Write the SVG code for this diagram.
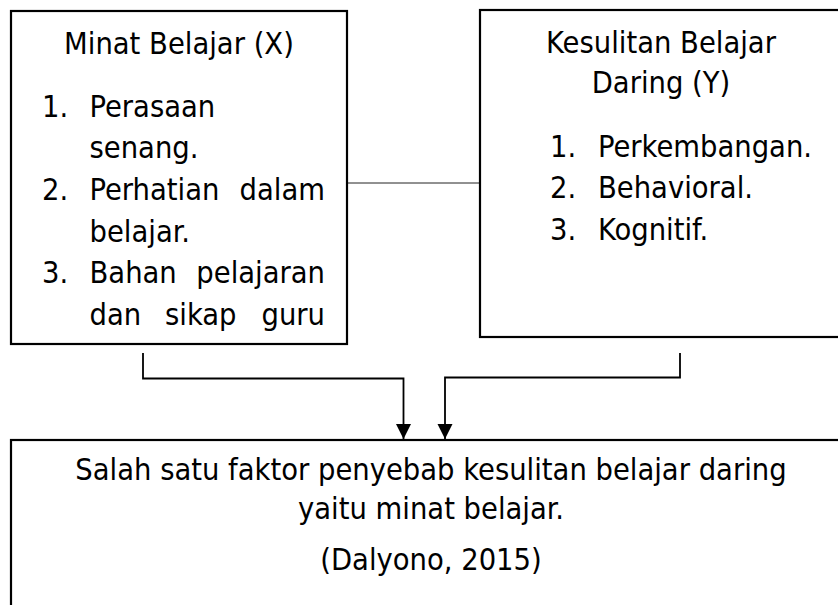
<svg xmlns="http://www.w3.org/2000/svg" width="838" height="605" viewBox="0 0 838 605">
<style>
  .box { fill: #fff; stroke: #000; stroke-width: 2.2; }
  text { font-family: "DejaVu Sans Condensed", "DejaVu Sans", sans-serif; font-stretch: condensed; font-size: 30.5px; fill: #000; }
  .mid { text-anchor: middle; }
  .end { text-anchor: end; }
  .conn { fill: none; stroke: #000; stroke-width: 1.8; }
  .thin { fill: none; stroke: #222; stroke-width: 1; }
</style>
<defs>
  <marker id="arrow" markerUnits="userSpaceOnUse" markerWidth="16" markerHeight="16" refX="15" refY="7.5" orient="auto">
    <polygon points="0,0 15,7.5 0,15" fill="#000"/>
  </marker>
</defs>
<rect width="838" height="605" fill="#fff"/>
<g id="connectors">
  <line class="thin" x1="347" y1="183" x2="480" y2="183"/>
  <path class="conn" d="M143,353 V378.5 H403.5 V439" marker-end="url(#arrow)"/>
  <path class="conn" d="M680,353 V377.5 H445 V439" marker-end="url(#arrow)"/>
</g>
<g id="minat">
  <rect class="box" x="11" y="11" width="336" height="333"/>
  <text class="mid" x="179" y="54">Minat Belajar (X)</text>
  <text x="42" y="117">1.</text><text x="89.5" y="117">Perasaan</text>
  <text x="89.5" y="158">senang.</text>
  <text x="42" y="200">2.</text><text x="89.5" y="200">Perhatian</text><text class="end" x="325" y="200">dalam</text>
  <text x="89.5" y="242">belajar.</text>
  <text x="42" y="283">3.</text><text x="89.5" y="283">Bahan</text><text class="end" x="325" y="283">pelajaran</text>
  <text x="89.5" y="325">dan</text><text x="165" y="325">sikap</text><text class="end" x="325" y="325">guru</text>
</g>
<g id="kesulitan">
  <rect class="box" x="480" y="10" width="380" height="327"/>
  <text class="mid" x="661" y="53">Kesulitan Belajar</text>
  <text class="mid" x="661" y="93">Daring (Y)</text>
  <text x="550" y="157">1.</text><text x="598" y="157">Perkembangan.</text>
  <text x="550" y="198">2.</text><text x="598" y="198">Behavioral.</text>
  <text x="550" y="240">3.</text><text x="598" y="240">Kognitif.</text>
</g>
<g id="faktor">
  <rect class="box" x="11" y="440" width="850" height="200"/>
  <text class="mid" x="431" y="480">Salah satu faktor penyebab kesulitan belajar daring</text>
  <text class="mid" x="431" y="519">yaitu minat belajar.</text>
  <text class="mid" x="431" y="570">(Dalyono, 2015)</text>
</g>
</svg>
